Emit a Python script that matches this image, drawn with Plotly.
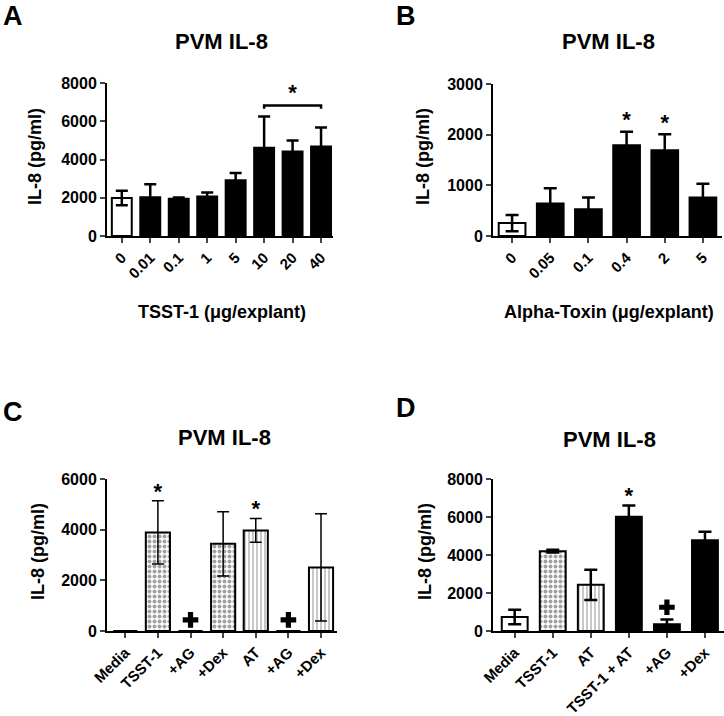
import plotly.graph_objects as go

W, H = 724, 716

# ---------------- data ----------------
A_cats = ["0", "0.01", "0.1", "1", "5", "10", "20", "40"]
A_mean = [1990, 2020, 1950, 2060, 2910, 4620, 4420, 4680]
A_err = [380, 690, 60, 210, 390, 1630, 570, 990]

B_cats = ["0", "0.05", "0.1", "0.4", "2", "5"]
B_mean = [255, 640, 530, 1790, 1690, 760]
B_err = [160, 300, 230, 270, 320, 270]

C_cats = ["Media", "TSST-1", "+AG", "+Dex", "AT", "+AG", "+Dex"]
C_mean = [0, 3890, 0, 3440, 3970, 0, 2510]
C_err = [0, 1250, 0, 1270, 470, 0, 2120]

D_cats = ["Media", "TSST-1", "AT", "TSST-1 + AT", "+AG", "+Dex"]
D_mean = [740, 4200, 2430, 6010, 350, 4780]
D_err = [380, 70, 800, 600, 250, 440]

# significance marks (category index, value level)
A_bracket_idx = [5, 7]
A_bracket_level = 6820
A_star = (6, 7400)
B_stars_idx = [3, 4]
B_stars_y = [2260, 2200]
C_stars_idx = [1, 4]
C_stars_y = [5430, 4770]
C_plus_idx = [2, 5]
C_plus_y = [440, 440]
D_stars_idx = [3]
D_stars_y = [7010]
D_plus_idx = [4]
D_plus_y = [1250]

FONT = "Liberation Sans, Arial, sans-serif"
PAT_SIZE = {"": 5, ".": 5, "|": 4}
PAT_SOLID = {"": 0.5, ".": 0.5, "|": 0.3}

fig = go.Figure()


def fx(p):
    return p / W


def fy(p):
    return 1 - p / H


panels = [
    dict(n="", cats=A_cats, mean=A_mean, err=A_err,
         colors=["white"] + ["black"] * 7, shapes=[""] * 8,
         xd=(107, 333), yd=(236, 83), xr=[-0.52, 7.42], yr=[0, 8000], dt=2000,
         bw=0.70, ew=6, et=2.5),
    dict(n="2", cats=B_cats, mean=B_mean, err=B_err,
         colors=["white"] + ["black"] * 5, shapes=[""] * 6,
         xd=(493, 722), yd=(236, 84), xr=[-0.5, 5.5], yr=[0, 3000], dt=1000,
         bw=0.70, ew=6.5, et=2.5),
    dict(n="3", cats=C_cats, mean=C_mean, err=C_err,
         colors=["white"] * 7, shapes=["", ".", ".", ".", "|", "|", "|"],
         xd=(107, 337), yd=(631, 479), xr=[-0.56, 6.49], yr=[0, 6000], dt=2000,
         bw=0.74, ew=6, et=1.5),
    dict(n="4", cats=D_cats, mean=D_mean, err=D_err,
         colors=["white", "white", "white", "black", "black", "black"],
         shapes=["", ".", "|", "", "", ""],
         xd=(493, 724), yd=(631, 479), xr=[-0.57, 5.5], yr=[0, 8000], dt=2000,
         bw=0.68, ew=6.5, et=2.5),
]

for p in panels:
    n = p["n"]
    xs = list(range(len(p["cats"])))
    fig.add_trace(go.Bar(
        x=xs, y=p["mean"], width=p["bw"],
        marker=dict(color=p["colors"], line=dict(color="black", width=2),
                    pattern=dict(shape=p["shapes"], fgcolor="black",
                                 size=[PAT_SIZE[s] for s in p["shapes"]],
                                 solidity=[PAT_SOLID[s] for s in p["shapes"]])),
        error_y=dict(type="data", array=p["err"], visible=True, color="black",
                     thickness=p["et"], width=p["ew"]),
        xaxis="x" + n, yaxis="y" + n, showlegend=False, cliponaxis=False,
    ))
    ax = dict(domain=[fx(p["xd"][0]), fx(p["xd"][1])], range=p["xr"],
              anchor="y" + n, tickmode="array", tickvals=xs, ticktext=p["cats"],
              tickangle=-45, ticks="outside", ticklen=5, tickwidth=2,
              showline=True, linecolor="black", linewidth=2, showgrid=False,
              zeroline=False, fixedrange=True, automargin=False,
              tickfont=dict(family=FONT, size=15, color="black", weight="bold"))
    ay = dict(domain=[fy(p["yd"][0]), fy(p["yd"][1])], range=p["yr"],
              anchor="x" + n, dtick=p["dt"], tick0=0, ticks="outside", ticklen=5,
              tickwidth=2, showline=True, linecolor="black", linewidth=2,
              showgrid=False, zeroline=False, automargin=False,
              tickfont=dict(family=FONT, size=16, color="black", weight="bold"))
    fig.update_layout(**{"xaxis" + n: ax, "yaxis" + n: ay})

# significance bracket in A
fig.add_trace(go.Scatter(
    x=[A_bracket_idx[0], A_bracket_idx[0], A_bracket_idx[1], A_bracket_idx[1]],
    y=[A_bracket_level - 170, A_bracket_level, A_bracket_level, A_bracket_level - 170],
    mode="lines", line=dict(color="black", width=2.5), showlegend=False,
    xaxis="x", yaxis="y", cliponaxis=False))


def text_marks(xs, ys, txt, n, size):
    fig.add_trace(go.Scatter(
        x=xs, y=ys, mode="text", text=[txt] * len(xs), textposition="middle center",
        textfont=dict(family=FONT, size=size, color="black", weight="bold"),
        showlegend=False, xaxis="x" + n, yaxis="y" + n, cliponaxis=False))


text_marks([A_star[0]], [A_star[1]], "*", "", 22)
text_marks(B_stars_idx, B_stars_y, "*", "2", 22)
text_marks(C_stars_idx, C_stars_y, "*", "3", 22)
text_marks(D_stars_idx, D_stars_y, "*", "4", 22)

for idx, yv, n in [(C_plus_idx, C_plus_y, "3"), (D_plus_idx, D_plus_y, "4")]:
    fig.add_trace(go.Scatter(
        x=idx, y=yv, mode="markers",
        marker=dict(symbol="cross", size=13, color="black", line=dict(width=0)),
        showlegend=False, xaxis="x" + n, yaxis="y" + n, cliponaxis=False))

ann = []


def label(text, x, y, size, angle=0):
    ann.append(dict(text=text, x=fx(x), y=fy(y), xref="paper", yref="paper",
                    xanchor="center", yanchor="middle", showarrow=False,
                    textangle=angle,
                    font=dict(family=FONT, size=size, color="black", weight="bold")))


# panel letters
label("A", 13, 16.5, 27)
label("B", 406, 16.5, 27)
label("C", 13, 412, 27)
label("D", 406, 408, 27)
# titles
label("PVM IL-8", 221, 42, 22)
label("PVM IL-8", 608, 42, 22)
label("PVM IL-8", 224, 437, 22)
label("PVM IL-8", 609, 439, 22)
# axis titles
label("IL-8 (pg/ml)", 35, 157, 18, -90)
label("IL-8 (pg/ml)", 423, 157, 18, -90)
label("IL-8 (pg/ml)", 38, 552, 18, -90)
label("IL-8 (pg/ml)", 425, 552, 18, -90)
label("TSST-1 (μg/explant)", 222, 312, 18)
label("Alpha-Toxin (μg/explant)", 609, 312, 18)

fig.update_layout(
    width=W, height=H, margin=dict(l=0, r=0, t=0, b=0, autoexpand=False),
    paper_bgcolor="white", plot_bgcolor="white", annotations=ann,
    barmode="overlay",
)

fig.write_html(
    "out.html",
    config={"displayModeBar": False},
    post_script="document.body.style.margin='0';document.body.style.padding='0';"
                "document.documentElement.style.overflow='hidden';",
)
